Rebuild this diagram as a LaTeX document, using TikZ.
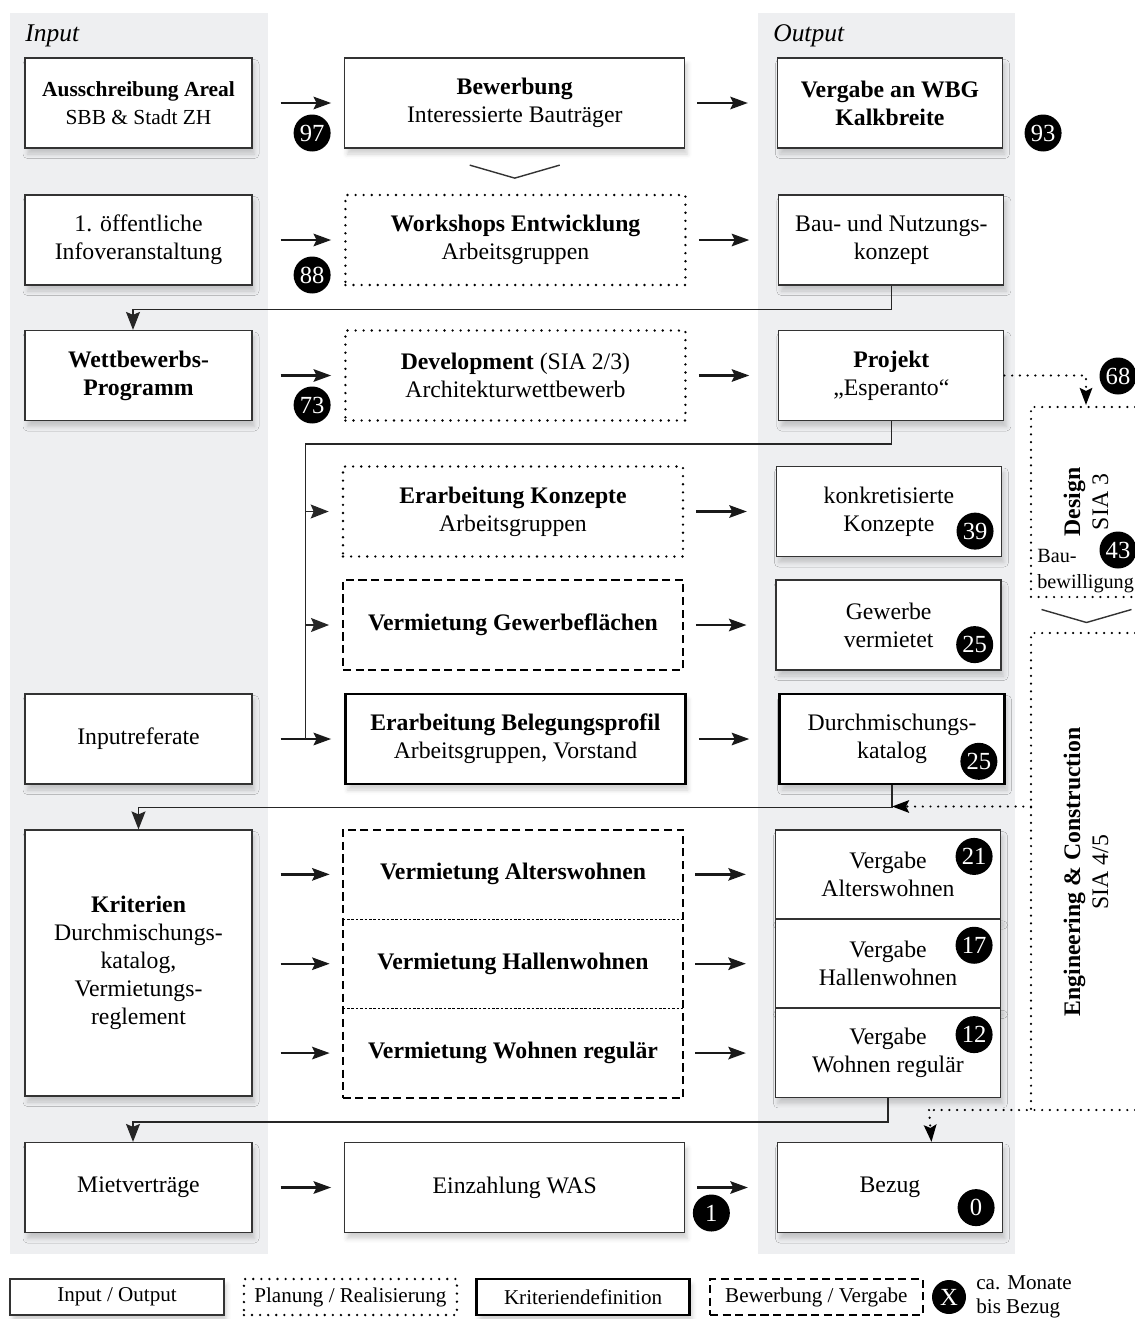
\documentclass[tikz,border=0pt]{standalone}
\usepackage{fontspec}
\setmainfont{Liberation Serif}
\usepackage{tikz}
\usetikzlibrary{arrows.meta,positioning,fit,shadows.blur}
\definecolor{bandgray}{RGB}{238,239,241}
\tikzset{
  io/.style   = {rectangle, draw=black!80, line width=0.7pt, fill=white, align=center,
                 minimum height=1.8cm, inner sep=2pt,
                 blur shadow={shadow xshift=0.5mm, shadow yshift=-1.2mm,
                 shadow blur radius=0.9mm, shadow opacity=18}},
  plan/.style = {rectangle, draw=black, line width=1.5pt, dash pattern=on 0pt off 4.6pt,
                 line cap=round, fill=white, align=center, minimum height=1.8cm, inner sep=2pt},
  krit/.style = {rectangle, draw=black, line width=1.5pt, fill=white, align=center,
                 minimum height=1.8cm, inner sep=2pt,
                 blur shadow={shadow xshift=0.5mm, shadow yshift=-1.2mm,
                 shadow blur radius=0.9mm, shadow opacity=18}},
  bew/.style  = {rectangle, draw=black, line width=1.1pt, dash pattern=on 4.6pt off 2.6pt,
                 fill=white, align=center, minimum height=1.8cm, inner sep=2pt},
  sub/.style  = {rectangle, align=center, minimum width=6.8cm, minimum height=1.773cm, inner sep=2pt},
  lft/.style  = {minimum width=4.54cm},
  mid/.style  = {minimum width=6.8cm},
  rgt/.style  = {minimum width=4.5cm},
  nr/.style   = {circle, fill=black, text=white, minimum size=0.74cm, inner sep=0pt,
                 font=\fontsize{14}{14}\selectfont},
  fl/.style   = {-{Stealth[length=3.5mm, width=2.5mm, inset=0.6mm]}, line width=1.3pt, black!90},
  cn/.style   = {-{Stealth[length=3.6mm, width=2.8mm, inset=0.6mm]}, line width=0.7pt, black!85},
  cnd/.style  = {-{Stealth[length=3.4mm, width=2.5mm, inset=0.6mm]}, line width=1.4pt,
                 dash pattern=on 0pt off 4.4pt, line cap=round},
  dotl/.style = {line width=1.4pt, dash pattern=on 0pt off 4.4pt, line cap=round},
  fine/.style = {line width=0.6pt, dash pattern=on 1.5pt off 1pt},
  chev/.style = {line width=0.8pt, black!80},
  lgd/.style  = {minimum width=4.26cm, minimum height=0.72cm, font=\fontsize{12}{14}\selectfont},
}

\begin{document}
\begin{tikzpicture}[node distance=1.83cm, font=\fontsize{13.5}{16}\selectfont]
  \useasboundingbox (0,0) rectangle (22.7,-26.38);
  % Spalten Input / Output
  \fill[bandgray] (0.2,-0.26) rectangle (5.36,-25.08);
  \fill[bandgray] (15.16,-0.26) rectangle (20.3,-25.08);
  \node[font=\fontsize{14.5}{16}\itshape, anchor=west, inner sep=0pt] (tin) at (0.5,-0.72) {Input};
  \node[font=\fontsize{14.5}{16}\itshape, anchor=west, inner sep=0pt] (tout) at (15.46,-0.72) {Output};

  % Zeile 1
  \node[io, lft, font=\fontsize{12.2}{16}\selectfont] (l1) at (2.77,-2.06)
    {\textbf{Ausschreibung Areal}\\ SBB \& Stadt ZH};
  \node[io, mid, right=of l1] (m1) {\textbf{Bewerbung}\\ Interessierte Bauträger};
  \node[io, rgt, right=of m1] (r1) {\textbf{Vergabe an WBG}\\ \textbf{Kalkbreite}};
  % Zeile 2
  \node[io, lft] (l2) at (2.77,-4.80) {1. öffentliche\\ Infoveranstaltung};
  \node[plan, mid, right=of l2] (m2) {\textbf{Workshops Entwicklung}\\ Arbeitsgruppen};
  \node[io, rgt, right=of m2] (r2) {Bau- und Nutzungs-\\ konzept};
  % Zeile 3
  \node[io, lft] (l3) at (2.77,-7.51) {\textbf{Wettbewerbs-}\\ \textbf{Programm}};
  \node[plan, mid, right=of l3] (m3) {\textbf{Development} (SIA 2/3)\\ Architekturwettbewerb};
  \node[io, rgt, right=of m3] (r3) {\textbf{Projekt}\\ „Esperanto“};
  % Zeile 4 und 5
  \node[plan, mid] (m4) at (10.26,-10.23) {\textbf{Erarbeitung Konzepte}\\ Arbeitsgruppen};
  \node[io, rgt, right=of m4] (r4) {konkretisierte\\ Konzepte};
  \node[bew, mid] (m5) at (10.26,-12.50) {\textbf{Vermietung Gewerbeflächen}};
  \node[io, rgt, right=of m5] (r5) {Gewerbe\\ vermietet};
  % Zeile 6
  \node[io, lft] (l6) at (2.77,-14.78) {Inputreferate};
  \node[krit, mid, right=of l6] (m6) {\textbf{Erarbeitung Belegungsprofil}\\ Arbeitsgruppen, Vorstand};
  \node[krit, rgt, right=of m6] (r6) {Durchmischungs-\\ katalog};
  % Zeile 7
  \node[io, lft, minimum height=5.32cm] (l7) at (2.77,-19.26)
    {\textbf{Kriterien}\\ Durchmischungs-\\ katalog,\\ Vermietungs-\\ reglement};
  \node[sub] (m7a) at (10.26,-17.487) {\textbf{Vermietung Alterswohnen}};
  \node[sub, below=0cm of m7a] (m7b) {\textbf{Vermietung Hallenwohnen}};
  \node[sub, below=0cm of m7b] (m7c) {\textbf{Vermietung Wohnen regulär}};
  \node[bew, fill=none, fit=(m7a)(m7c), inner sep=0pt] (m7) {};
  \draw[fine] (m7a.south west) -- (m7a.south east);
  \draw[fine] (m7b.south west) -- (m7b.south east);
  \node[io, rgt, minimum height=1.773cm, right=of m7a] (r7a) {Vergabe\\ Alterswohnen};
  \node[io, rgt, minimum height=1.773cm, right=of m7b] (r7b) {Vergabe\\ Hallenwohnen};
  \node[io, rgt, minimum height=1.773cm, right=of m7c] (r7c) {Vergabe\\ Wohnen regulär};
  % Zeile 8
  \node[io, lft] (l8) at (2.77,-23.75) {Mietverträge};
  \node[io, mid, right=of l8] (m8) {Einzahlung WAS};
  \node[io, rgt, right=of m8] (r8) {Bezug};

  % Pfeile zwischen den Spalten
  \foreach \a/\b in {l1/m1,l2/m2,l3/m3,l6/m6,l8/m8}
    \draw[fl] ([xshift=0.56cm]\a.east) -- ([xshift=-0.26cm]\b.west);
  \foreach \b in {m7a,m7b,m7c}
    \draw[fl] ([xshift=0.56cm]l7.east |- \b.west) -- ([xshift=-0.26cm]\b.west);
  \foreach \a/\b in {m1/r1,m2/r2,m3/r3,m4/r4,m5/r5,m6/r6,m7a/r7a,m7b/r7b,m7c/r7c,m8/r8}
    \draw[fl] ([xshift=0.24cm]\a.east) -- ([xshift=-0.58cm]\b.west);
  \draw[chev] ([shift={(-0.9,-0.33)}]m1.south) -- ([shift={(0,-0.59)}]m1.south)
    -- ([shift={(0.9,-0.33)}]m1.south);

  % Rückführungen
  \draw[cn] (r2.south) -- ++(0,-0.48) -| ([xshift=-0.11cm]l3.north);
  \coordinate (bus) at (6.11,-8.88);
  \draw[cn, -] (r3.south) |- (bus) -- (bus |- m6.west);
  \foreach \b in {m4,m5}
    \draw[cn] (bus |- \b.west) -- ([xshift=-0.26cm]\b.west);
  \draw[cn] (r6.south) -- ++(0,-0.45) -| (l7.north);
  \draw[cn] (r7c.south) -- ++(0,-0.48) -| ([xshift=-0.11cm]l8.north);

  % Design / Engineering
  \coordinate (dsgnTop) at (21.72,-8.14);
  \draw[cnd] (r3.east) -| ([yshift=0.04cm]dsgnTop);
  \draw[dotl] (22.7,-8.14) -| (20.62,-11.94) -- (22.7,-11.94);
  \node[rotate=90, align=center] (dsgn) at (21.72,-10.04) {\textbf{Design}\\ SIA 3};
  \node[anchor=west, align=left, inner sep=0pt, font=\fontsize{11.5}{14.5}\selectfont]
    (baubew) at (20.74,-11.42) {Bau-\\ bewilligung};
  \draw[chev] (20.83,-12.19) -- (21.73,-12.45) -- (22.63,-12.19);
  \draw[dotl] (22.7,-12.66) -| (20.62,-22.20);
  \coordinate (engL) at (20.62,-16.13);
  \coordinate (engB) at (18.58,-22.20);
  \draw[dotl] (22.7,-22.20) -- (engB);
  \draw[cnd] (engB) -- ([xshift=0.83cm]r8.north);
  \draw[cnd] (engL) -- (r6.south |- engL);
  \node[rotate=90, align=center] (eng) at (21.72,-17.44) {\textbf{Engineering \& Construction}\\ SIA 4/5};

  % Monate bis Bezug
  \node[nr] (n97) at ([shift={(-0.64,-0.60)}]m1.west) {97};
  \node[nr] (n88) at ([shift={(-0.64,-0.70)}]m2.west) {88};
  \node[nr] (n73) at ([shift={(-0.64,-0.59)}]m3.west) {73};
  \node[nr] (n93) at ([shift={(0.80,-0.60)}]r1.east) {93};
  \node[nr] (n68) at (22.36,-7.52) {68};
  \node[nr] (n43) at (22.36,-11.0) {43};
  \node[nr] (n39) at ([shift={(-0.54,0.52)}]r4.south east) {39};
  \node[nr] (n25a) at ([shift={(-0.54,0.52)}]r5.south east) {25};
  \node[nr] (n25b) at ([shift={(-0.54,0.48)}]r6.south east) {25};
  \node[nr] (n21) at ([shift={(-0.54,-0.54)}]r7a.north east) {21};
  \node[nr] (n17) at ([shift={(-0.54,-0.53)}]r7b.north east) {17};
  \node[nr] (n12) at ([shift={(-0.54,-0.53)}]r7c.north east) {12};
  \node[nr] (n0) at ([shift={(-0.54,0.51)}]r8.south east) {0};
  \node[nr] (n1) at ([shift={(0.52,-0.51)}]m8.east) {1};

  % Legende
  \node[io, lgd, minimum width=4.28cm] (lgio) at (2.34,-25.94) {Input / Output};
  \node[plan, lgd, right=0.36cm of lgio] (lgplan) {Planung / Realisierung};
  \node[krit, lgd, right=0.34cm of lgplan] (lgkrit) {Kriteriendefinition};
  \node[bew, lgd, right=0.36cm of lgkrit] (lgbew) {Bewerbung / Vergabe};
  \node[nr, minimum size=0.68cm] (lgx) at (18.98,-25.94) {X};
  \node[anchor=west, align=left, inner sep=0pt, font=\fontsize{12}{13.5}\selectfont]
    (lgtxt) at (19.52,-25.94) {ca. Monate\\ bis Bezug};
\end{tikzpicture}
\end{document}
